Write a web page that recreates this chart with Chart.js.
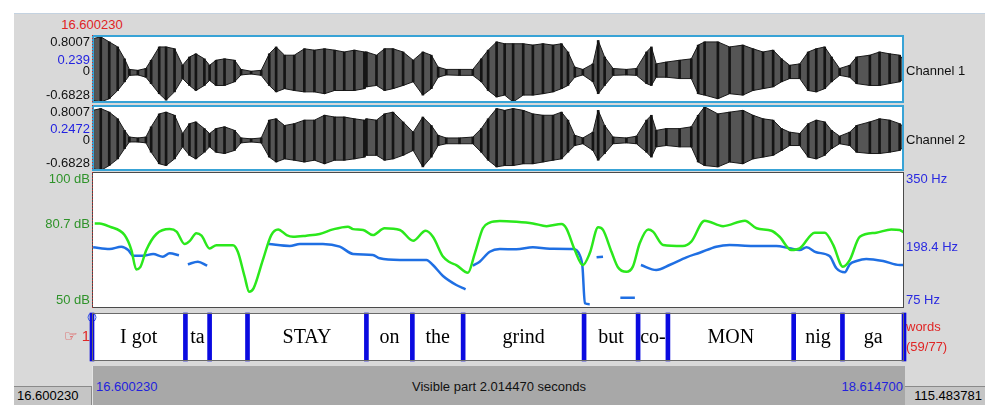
<!DOCTYPE html>
<html lang="en">
<head>
  <meta charset="UTF-8" />
  <title>Praat sound + TextGrid view</title>
  <script src="https://cdn.jsdelivr.net/npm/chart.js"></script>
  <style>
    body { margin: 0; width: 1000px; height: 420px; background: #fff; position: relative; overflow: hidden;
           font-family: "Liberation Sans", "DejaVu Sans", Arial, sans-serif; font-size: 13px; }
    .abs { position: absolute; }
    #frame { left: 14px; top: 13px; width: 971px; height: 392px; background: #d9d9d9; border-top: 1px solid #c4d2e0; box-sizing: border-box; }
    canvas.panel { position: absolute; left: 14px; }
    #bar { left: 92px; top: 366px; width: 813px; height: 39px; background: #a8a8a8; border-left: 1px solid #e4e4e4; box-sizing: border-box; }
    .box { top: 386px; height: 19px; background: #c5c5c5; border-top: 1px solid #8a8a8a; box-sizing: border-box; line-height: 18px; }
    .lbl { white-space: nowrap; line-height: 15px; }
  </style>
</head>
<body>
  <div id="frame" class="abs"></div>
  <div class="abs lbl" style="left:0; width:184px; text-align:center; top:17px; color:#e02424;">16.600230</div>

  <canvas id="ch1" class="panel" width="971" height="68" style="top:35px"></canvas>
  <canvas id="ch2" class="panel" width="971" height="66" style="top:105px"></canvas>
  <canvas id="pitch" class="panel" width="971" height="136" style="top:172px"></canvas>
  <canvas id="tier" class="panel" width="971" height="58" style="top:308px"></canvas>

  <div id="bar" class="abs">
    <div class="abs lbl" style="left:3px; top:13px; color:#2222dd;">16.600230</div>
    <div class="abs lbl" style="left:0; width:812px; text-align:center; top:13px; color:#111;">Visible part 2.014470 seconds</div>
    <div class="abs lbl" style="right:2px; top:13px; color:#2222dd;">18.614700</div>
  </div>
  <div class="abs box" style="left:14px; width:78px; border-right:1px solid #8a8a8a;"><span style="padding-left:3px">16.600230</span></div>
  <div class="abs box" style="left:905px; width:80px; text-align:right;"><span style="padding-right:3px">115.483781</span></div>

  <script>
  // visible window (s)
  const tStart = 16.600230;
  const tEnd = 18.614700;

  // waveform envelope
  const waveTimes = [16.602, 16.622, 16.643, 16.664, 16.681, 16.693, 16.714, 16.734, 16.747, 16.767, 16.784, 16.805, 16.825, 16.842, 16.858, 16.879, 16.892, 16.908, 16.929, 16.954, 16.970, 16.995, 17.020, 17.040, 17.057, 17.078, 17.102, 17.127, 17.152, 17.177, 17.202, 17.226, 17.251, 17.276,
    17.281, 17.306, 17.326, 17.347, 17.372, 17.397, 17.421, 17.442, 17.459, 17.479, 17.512, 17.545, 17.566, 17.583, 17.604, 17.624, 17.645, 17.670, 17.694, 17.719, 17.744, 17.765, 17.781, 17.798, 17.818, 17.843, 17.856, 17.872, 17.893, 17.926,
    17.951, 17.976, 17.988, 18.000, 18.025, 18.058, 18.087, 18.104, 18.120, 18.153, 18.182, 18.215, 18.240, 18.265, 18.290, 18.311, 18.331, 18.356, 18.377, 18.397, 18.418, 18.435, 18.455, 18.480, 18.497, 18.530, 18.554, 18.579, 18.604, 18.614];
  const ch1Max = [0.72, 0.76, 0.65, 0.54, 0.28, 0.05, 0.03, 0.07, 0.25, 0.54, 0.54, 0.50, 0.14, 0.32, 0.39, 0.28, 0.14, 0.25, 0.28, 0.25, 0.05, 0.01, 0.03, 0.39, 0.54, 0.36, 0.36, 0.50, 0.47, 0.50, 0.47, 0.43, 0.47, 0.43,
    0.43, 0.36, 0.50, 0.50, 0.43, 0.25, 0.43, 0.36, 0.10, 0.05, 0.05, 0.05, 0.28, 0.47, 0.65, 0.61, 0.61, 0.61, 0.58, 0.61, 0.58, 0.61, 0.43, 0.10, 0.05, 0.17, 0.68, 0.32, 0.07, 0.05,
    0.07, 0.43, 0.54, 0.17, 0.21, 0.25, 0.28, 0.58, 0.65, 0.65, 0.54, 0.58, 0.50, 0.43, 0.47, 0.28, 0.14, 0.17, 0.43, 0.50, 0.54, 0.32, 0.07, 0.14, 0.32, 0.36, 0.43, 0.39, 0.36, 0.25];
  const ch1Min = [-0.62, -0.66, -0.59, -0.41, -0.22, -0.08, -0.07, -0.12, -0.26, -0.48, -0.62, -0.44, -0.15, -0.30, -0.41, -0.30, -0.19, -0.30, -0.30, -0.22, -0.07, -0.05, -0.08, -0.30, -0.44, -0.37, -0.41, -0.44, -0.44, -0.48, -0.41, -0.41, -0.41, -0.37,
    -0.33, -0.30, -0.41, -0.37, -0.30, -0.22, -0.51, -0.37, -0.12, -0.07, -0.08, -0.08, -0.22, -0.41, -0.55, -0.51, -0.66, -0.51, -0.51, -0.48, -0.44, -0.37, -0.30, -0.12, -0.07, -0.22, -0.48, -0.30, -0.08, -0.07,
    -0.08, -0.26, -0.30, -0.12, -0.12, -0.15, -0.15, -0.48, -0.51, -0.59, -0.48, -0.51, -0.41, -0.37, -0.33, -0.22, -0.15, -0.15, -0.41, -0.44, -0.37, -0.22, -0.08, -0.12, -0.26, -0.30, -0.30, -0.26, -0.22, -0.15];
  const ch2Max = [0.68, 0.72, 0.64, 0.49, 0.23, 0.08, 0.06, 0.08, 0.31, 0.60, 0.64, 0.57, 0.16, 0.38, 0.42, 0.27, 0.16, 0.27, 0.31, 0.23, 0.06, 0.04, 0.06, 0.46, 0.49, 0.34, 0.38, 0.46, 0.46, 0.57, 0.53, 0.53, 0.49, 0.46,
    0.49, 0.46, 0.60, 0.64, 0.42, 0.19, 0.53, 0.34, 0.12, 0.06, 0.06, 0.08, 0.27, 0.49, 0.72, 0.68, 0.72, 0.68, 0.60, 0.57, 0.57, 0.64, 0.46, 0.12, 0.06, 0.19, 0.68, 0.34, 0.08, 0.06,
    0.10, 0.46, 0.57, 0.23, 0.27, 0.27, 0.31, 0.57, 0.76, 0.60, 0.64, 0.68, 0.57, 0.49, 0.46, 0.27, 0.19, 0.16, 0.38, 0.46, 0.42, 0.23, 0.10, 0.19, 0.34, 0.42, 0.49, 0.46, 0.38, 0.31];
  const ch2Min = [-0.63, -0.67, -0.56, -0.41, -0.18, -0.03, -0.03, -0.05, -0.26, -0.52, -0.56, -0.41, -0.14, -0.33, -0.41, -0.26, -0.14, -0.26, -0.29, -0.22, -0.05, -0.03, -0.05, -0.37, -0.48, -0.41, -0.44, -0.48, -0.44, -0.52, -0.44, -0.44, -0.41, -0.37,
    -0.33, -0.33, -0.44, -0.41, -0.33, -0.22, -0.59, -0.37, -0.11, -0.07, -0.07, -0.07, -0.26, -0.44, -0.59, -0.56, -0.56, -0.52, -0.52, -0.48, -0.44, -0.41, -0.26, -0.11, -0.07, -0.22, -0.44, -0.29, -0.07, -0.05,
    -0.07, -0.26, -0.37, -0.14, -0.11, -0.14, -0.14, -0.48, -0.56, -0.59, -0.48, -0.52, -0.41, -0.37, -0.33, -0.22, -0.11, -0.11, -0.37, -0.41, -0.33, -0.18, -0.07, -0.11, -0.26, -0.29, -0.29, -0.26, -0.22, -0.14];

  // intensity contour (dB)
  const intensTimes = [16.607, 16.619, 16.644, 16.681, 16.698, 16.710, 16.720, 16.735, 16.760, 16.793, 16.810, 16.830, 16.843, 16.859, 16.872, 16.892, 16.909, 16.950, 16.962, 16.979, 16.990, 17.001, 17.024, 17.045, 17.062, 17.083, 17.099, 17.132, 17.165, 17.198, 17.235, 17.248, 17.273, 17.297, 17.326, 17.364, 17.397, 17.428, 17.446, 17.471, 17.488, 17.504, 17.533, 17.550, 17.570, 17.587,
    17.612, 17.653, 17.694, 17.728, 17.765, 17.777, 17.798, 17.818, 17.835, 17.856, 17.868, 17.889, 17.905, 17.926, 17.942, 17.959, 17.980, 17.992, 18.017, 18.066, 18.087, 18.120, 18.166, 18.220, 18.249, 18.286, 18.306, 18.335, 18.356, 18.393, 18.418, 18.439, 18.463, 18.480, 18.505, 18.546, 18.583, 18.604, 18.614];
  const intensDb = [81.1, 81.1, 79.9, 76.8, 71.3, 64.2, 65.0, 71.3, 77.2, 79.0, 78.1, 73.5, 74.7, 77.5, 76.6, 71.9, 73.1, 73.1, 70.7, 61.5, 56.0, 57.2, 67.6, 76.8, 78.9, 76.8, 76.2, 76.6, 77.2, 78.9, 79.9, 79.0, 78.7, 76.8, 79.3, 78.7, 74.7, 78.4, 76.2, 68.9, 66.8, 65.8, 63.0, 70.1, 79.3, 81.4,
    82.0, 81.7, 81.1, 80.1, 80.9, 79.3, 71.3, 65.8, 70.1, 79.7, 78.7, 70.7, 65.0, 63.3, 65.2, 73.8, 78.9, 78.1, 73.2, 72.8, 74.4, 82.1, 80.1, 82.1, 79.3, 78.4, 76.2, 71.3, 71.9, 77.7, 77.7, 73.2, 65.2, 67.6, 76.2, 77.7, 78.9, 78.7, 77.8];

  // pitch contour (Hz), null = unvoiced
  const pitchTimes = [16.603, 16.644, 16.673, 16.690, 16.702, 16.727, 16.752, 16.776, 16.793, 16.816, 16.827,
    16.838, 16.863, 16.886, 16.960,
    17.039, 17.091, 17.116, 17.173, 17.215, 17.248, 17.297, 17.314, 17.364, 17.397, 17.430, 17.446, 17.471, 17.504, 17.527, 17.536,
    17.545, 17.562, 17.587, 17.612, 17.653, 17.694, 17.736, 17.794, 17.810, 17.817, 17.823, 17.835, 17.843,
    17.852, 17.868, 17.890,
    17.911, 17.947, 17.955,
    17.962, 18.000, 18.033, 18.075, 18.108, 18.149, 18.182, 18.240, 18.298, 18.331, 18.356, 18.373, 18.397, 18.430, 18.447, 18.468, 18.480, 18.497, 18.521, 18.563, 18.604, 18.614];
  const pitchHz = [197.7, 194.3, 199.0, 192.3, 180.7, 180.7, 184.2, 178.7, 185.6, 181.6, null,
    163.4, 168.6, 160.5, null,
    204.4, 200.4, 204.4, 204.4, 199.0, 184.2, 182.2, 175.5, 172.1, 172.1, 172.1, 161.9, 139.7, 121.5, 112.8, null,
    160.5, 168.6, 188.8, 194.3, 193.7, 197.7, 194.9, 194.3, 182.2, 158.5, 84.5, 82.5, null,
    177.5, 178.7, null,
    95.8, 95.8, null,
    161.9, 151.8, 161.9, 177.5, 186.8, 199.0, 202.4, 200.4, 200.4, 195.7, 192.3, 197.7, 187.6, 180.1, 155.3, 147.2, 163.4, 170.0, 174.1, 170.0, 161.9, 161.9];

  // "words" tier
  const tierBounds = [16.600230, 16.832, 16.892, 16.986, 17.281, 17.395, 17.521, 17.821, 17.955, 18.029, 18.341, 18.462, 18.614700];
  const tierLabels = ['I got', 'ta', '', 'STAY', 'on', 'the', 'grind', 'but', 'co-', 'MON', 'nig', 'ga'];

  // axis ticks
  const ch1Ticks = [0.8007, 0.239, 0, -0.6828];
  const ch2Ticks = [0.8007, 0.2472, 0, -0.6828];
  const dbTicks = [100, 80.7, 50];
  const hzTicks = [350, 198.4, 75];

  Chart.defaults.font.family = '"Liberation Sans", "DejaVu Sans", Arial, sans-serif';
  Chart.defaults.font.size = 13;
  Chart.defaults.color = '#111';
  Chart.defaults.animation = false;
  Chart.defaults.events = [];
  Chart.defaults.plugins.legend.display = false;
  Chart.defaults.plugins.tooltip.enabled = false;

  const pts = (xs, ys) => xs.map((x, i) => ({ x: x, y: ys[i] }));

  // white plot area with a box round it, plus the red cursor line at the left edge
  const frame = {
    id: 'frame',
    beforeDraw(chart) {
      const { ctx, chartArea: a } = chart;
      ctx.save();
      ctx.fillStyle = '#fff';
      ctx.fillRect(a.left, a.top, a.right - a.left, a.bottom - a.top);
      ctx.restore();
    },
    afterDraw(chart, args, opts) {
      const { ctx, chartArea: a } = chart;
      const h = opts.width / 2;
      ctx.save();
      ctx.strokeStyle = opts.color;
      ctx.lineWidth = opts.width;
      ctx.strokeRect(a.left + h, a.top + h, a.right - a.left - opts.width, a.bottom - a.top - opts.width);
      if (opts.cursor) {
        ctx.strokeStyle = '#c83030';
        ctx.lineWidth = 1;
        ctx.setLineDash([1, 2]);
        ctx.beginPath();
        ctx.moveTo(a.left + 0.5, a.top);
        ctx.lineTo(a.left + 0.5, a.bottom);
        ctx.stroke();
      }
      ctx.restore();
    }
  };

  // interval texts of the tier
  const tierText = {
    id: 'tierText',
    afterDatasetsDraw(chart) {
      const { ctx, chartArea: a, scales: { x } } = chart;
      ctx.save();
      ctx.font = '20px "Liberation Serif", "Times New Roman", serif';
      ctx.fillStyle = '#000';
      ctx.textAlign = 'center';
      ctx.textBaseline = 'middle';
      tierLabels.forEach((lab, i) => {
        const mid = (tierBounds[i] + tierBounds[i + 1]) / 2;
        ctx.fillText(lab, x.getPixelForValue(mid), (a.top + a.bottom) / 2 + 1);
      });
      ctx.restore();
    }
  };

  const timeAxis = { type: 'linear', min: tStart, max: tEnd, offset: false, display: false };

  // side axis: labels at the top and bottom edge are pushed inside the panel, like Praat does
  function sideAxis(pos, ticksArr, min, max, unit, color, zeroLine) {
    return {
      type: 'linear', position: pos, min: min, max: max,
      afterBuildTicks: s => { s.ticks = ticksArr.map(v => ({ value: v })); },
      afterFit: s => { s.width = pos === 'left' ? 78 : 81; s.paddingTop = 0; s.paddingBottom = 0; },
      border: { display: false },
      grid: {
        display: !!zeroLine, drawTicks: false,
        color: c => (c.tick && c.tick.value === 0) ? 'rgba(60,120,200,0.55)' : 'rgba(0,0,0,0)'
      },
      ticks: {
        autoSkip: false, padding: 2,
        font: { size: 13, lineHeight: 1.2 },
        color: color,
        callback: v => {
          const s = String(v) + unit;
          if (v === max) return ['', s];
          if (v === min) return [s, ''];
          return s;
        }
      }
    };
  }

  function labelAxis(pos, value, min, max, label, color, lineHeight, size) {
    return {
      type: 'linear', position: pos, min: min, max: max,
      afterBuildTicks: s => { s.ticks = [{ value: value }]; },
      afterFit: s => { s.width = pos === 'left' ? 78 : 81; s.paddingTop = 0; s.paddingBottom = 0; },
      border: { display: false },
      grid: { display: false, drawTicks: false },
      ticks: { autoSkip: false, padding: 2, color: color, font: { size: size || 13, lineHeight: lineHeight || 1.2 }, callback: () => label }
    };
  }

  function waveChart(id, maxArr, minArr, ticksArr, blueVal, name) {
    new Chart(document.getElementById(id), {
      type: 'line',
      data: {
        datasets: [
          { type: 'bar', order: 0, data: waveTimes.map((t, i) => ({ x: t, y: [minArr[i], maxArr[i]] })), backgroundColor: '#141414', barThickness: 2 },
          { type: 'line', order: 1, data: pts(waveTimes, maxArr), borderColor: '#1a1a1a', borderWidth: 1, pointRadius: 0, fill: false },
          { type: 'line', order: 1, data: pts(waveTimes, minArr), borderColor: '#1a1a1a', borderWidth: 1, pointRadius: 0, fill: '-1', backgroundColor: '#555555' }
        ]
      },
      options: {
        responsive: false,
        layout: { padding: 0 },
        scales: {
          x: timeAxis,
          y: sideAxis('left', ticksArr, -0.6828, 0.8007, '', c => c.tick.value === blueVal ? '#2323e0' : '#111', true),
          yR: labelAxis('right', 0, -0.6828, 0.8007, name, '#111')
        },
        plugins: { frame: { color: '#38a3d6', width: 2, cursor: true } }
      },
      plugins: [frame]
    });
  }

  waveChart('ch1', ch1Max, ch1Min, ch1Ticks, 0.239, 'Channel 1');
  waveChart('ch2', ch2Max, ch2Min, ch2Ticks, 0.2472, 'Channel 2');

  new Chart(document.getElementById('pitch'), {
    type: 'line',
    data: {
      datasets: [
        { label: 'Intensity', data: pts(intensTimes, intensDb), yAxisID: 'yDb', borderColor: '#2be81c', borderWidth: 2.5, pointRadius: 0, cubicInterpolationMode: 'monotone' },
        { label: 'Pitch', data: pts(pitchTimes, pitchHz), yAxisID: 'yHz', borderColor: '#1f6fe3', borderWidth: 2.5, pointRadius: 0, spanGaps: false, cubicInterpolationMode: 'monotone' }
      ]
    },
    options: {
      responsive: false,
      layout: { padding: 0 },
      scales: {
        x: timeAxis,
        yDb: sideAxis('left', dbTicks, 50, 100, ' dB', '#2f932a', false),
        yHz: sideAxis('right', hzTicks, 75, 350, ' Hz', '#2a2ae0', false)
      },
      plugins: { frame: { color: '#4a4a4a', width: 1, cursor: true } }
    },
    plugins: [frame]
  });

  new Chart(document.getElementById('tier'), {
    type: 'line',
    data: {
      datasets: [
        { type: 'bar', data: tierBounds.map(t => ({ x: t, y: [0, 1] })), backgroundColor: '#0a0ae0', barThickness: 4, clip: false },
        { type: 'scatter', data: [{ x: tStart, y: 0.91 }], pointRadius: 4, borderColor: '#3a5ae8', borderWidth: 1, backgroundColor: 'rgba(0,0,0,0)', clip: false }
      ]
    },
    options: {
      responsive: false,
      layout: { padding: 0 },
      scales: {
        x: timeAxis,
        y: labelAxis('left', 0.5, 0, 1, '☞ 1', '#e02626', 1.2, 15),
        yR: labelAxis('right', 0.5, 0, 1, ['words', '(59/77)'], '#e02626', 1.55)
      },
      plugins: { frame: { color: '#6a6a6a', width: 1, cursor: false } }
    },
    plugins: [frame, tierText]
  });
  </script>
</body>
</html>
